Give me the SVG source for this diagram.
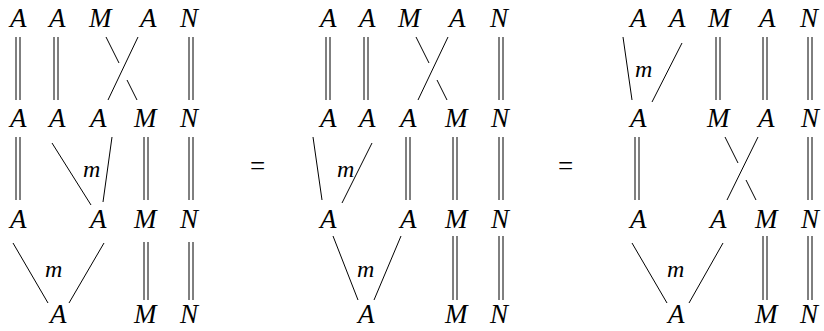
<svg xmlns="http://www.w3.org/2000/svg" width="824" height="331" viewBox="0 0 824 331">
<style>
line{stroke:#000;stroke-width:1}
</style>
<rect width="824" height="331" fill="#fff"/>
<g id="p1-r1"><text font-family="Liberation Serif" font-style="italic" font-size="27" x="10" y="27">A</text><text font-family="Liberation Serif" font-style="italic" font-size="27" x="49" y="27">A</text><text font-family="Liberation Serif" font-style="italic" font-size="27" x="89" y="27">M</text><text font-family="Liberation Serif" font-style="italic" font-size="27" x="140" y="27">A</text><text font-family="Liberation Serif" font-style="italic" font-size="27" x="180" y="27">N</text></g>
<g id="p1-r2"><text font-family="Liberation Serif" font-style="italic" font-size="27" x="10" y="127">A</text><text font-family="Liberation Serif" font-style="italic" font-size="27" x="49" y="127">A</text><text font-family="Liberation Serif" font-style="italic" font-size="27" x="90" y="127">A</text><text font-family="Liberation Serif" font-style="italic" font-size="27" x="134" y="127">M</text><text font-family="Liberation Serif" font-style="italic" font-size="27" x="180" y="127">N</text></g>
<g id="p1-r3"><text font-family="Liberation Serif" font-style="italic" font-size="27" x="10" y="228">A</text><text font-family="Liberation Serif" font-style="italic" font-size="27" x="90" y="228">A</text><text font-family="Liberation Serif" font-style="italic" font-size="27" x="134" y="228">M</text><text font-family="Liberation Serif" font-style="italic" font-size="27" x="180" y="228">N</text></g>
<g id="p1-r4"><text font-family="Liberation Serif" font-style="italic" font-size="27" x="50" y="323">A</text><text font-family="Liberation Serif" font-style="italic" font-size="27" x="134" y="323">M</text><text font-family="Liberation Serif" font-style="italic" font-size="27" x="180" y="323">N</text></g>
<g id="p2-r1"><text font-family="Liberation Serif" font-style="italic" font-size="27" x="320" y="27">A</text><text font-family="Liberation Serif" font-style="italic" font-size="27" x="359" y="27">A</text><text font-family="Liberation Serif" font-style="italic" font-size="27" x="398" y="27">M</text><text font-family="Liberation Serif" font-style="italic" font-size="27" x="449" y="27">A</text><text font-family="Liberation Serif" font-style="italic" font-size="27" x="490" y="27">N</text></g>
<g id="p2-r2"><text font-family="Liberation Serif" font-style="italic" font-size="27" x="320" y="127">A</text><text font-family="Liberation Serif" font-style="italic" font-size="27" x="359" y="127">A</text><text font-family="Liberation Serif" font-style="italic" font-size="27" x="400" y="127">A</text><text font-family="Liberation Serif" font-style="italic" font-size="27" x="445" y="127">M</text><text font-family="Liberation Serif" font-style="italic" font-size="27" x="491" y="127">N</text></g>
<g id="p2-r3"><text font-family="Liberation Serif" font-style="italic" font-size="27" x="320" y="228">A</text><text font-family="Liberation Serif" font-style="italic" font-size="27" x="400" y="228">A</text><text font-family="Liberation Serif" font-style="italic" font-size="27" x="445" y="228">M</text><text font-family="Liberation Serif" font-style="italic" font-size="27" x="491" y="228">N</text></g>
<g id="p2-r4"><text font-family="Liberation Serif" font-style="italic" font-size="27" x="358" y="323">A</text><text font-family="Liberation Serif" font-style="italic" font-size="27" x="445" y="323">M</text><text font-family="Liberation Serif" font-style="italic" font-size="27" x="490" y="323">N</text></g>
<g id="p3-r1"><text font-family="Liberation Serif" font-style="italic" font-size="27" x="630" y="27">A</text><text font-family="Liberation Serif" font-style="italic" font-size="27" x="669" y="27">A</text><text font-family="Liberation Serif" font-style="italic" font-size="27" x="708" y="27">M</text><text font-family="Liberation Serif" font-style="italic" font-size="27" x="759" y="27">A</text><text font-family="Liberation Serif" font-style="italic" font-size="27" x="800" y="27">N</text></g>
<g id="p3-r2"><text font-family="Liberation Serif" font-style="italic" font-size="27" x="630" y="127">A</text><text font-family="Liberation Serif" font-style="italic" font-size="27" x="707" y="127">M</text><text font-family="Liberation Serif" font-style="italic" font-size="27" x="758" y="127">A</text><text font-family="Liberation Serif" font-style="italic" font-size="27" x="801" y="127">N</text></g>
<g id="p3-r3"><text font-family="Liberation Serif" font-style="italic" font-size="27" x="630" y="228">A</text><text font-family="Liberation Serif" font-style="italic" font-size="27" x="710" y="228">A</text><text font-family="Liberation Serif" font-style="italic" font-size="27" x="755" y="228">M</text><text font-family="Liberation Serif" font-style="italic" font-size="27" x="801" y="228">N</text></g>
<g id="p3-r4"><text font-family="Liberation Serif" font-style="italic" font-size="27" x="668" y="323">A</text><text font-family="Liberation Serif" font-style="italic" font-size="27" x="755" y="323">M</text><text font-family="Liberation Serif" font-style="italic" font-size="27" x="800" y="323">N</text></g>
<g id="labels">
<text font-family="Liberation Serif" font-style="italic" font-size="24" x="83" y="177">m</text><text font-family="Liberation Serif" font-style="italic" font-size="24" x="45" y="277">m</text>
<text font-family="Liberation Serif" font-style="italic" font-size="24" x="337" y="177">m</text><text font-family="Liberation Serif" font-style="italic" font-size="24" x="357" y="277">m</text>
<text font-family="Liberation Serif" font-style="italic" font-size="24" x="635" y="77">m</text><text font-family="Liberation Serif" font-style="italic" font-size="24" x="667" y="277">m</text>
</g>
<g id="equals"><text font-family="Liberation Serif" font-size="27" x="250" y="175">=</text><text font-family="Liberation Serif" font-size="27" x="558" y="175">=</text></g>
<g id="connectors">
<line x1="16" y1="37" x2="16" y2="100"/><line x1="20" y1="37" x2="20" y2="100"/>
<line x1="54" y1="37" x2="54" y2="100"/><line x1="58" y1="37" x2="58" y2="100"/>
<line x1="138" y1="37" x2="108" y2="100"/>
<line x1="106" y1="37" x2="119" y2="63"/><line x1="127" y1="80" x2="137" y2="100"/>
<line x1="189" y1="37" x2="189" y2="100"/><line x1="193" y1="37" x2="193" y2="100"/>
<line x1="16" y1="137" x2="16" y2="200"/><line x1="20" y1="137" x2="20" y2="200"/>
<line x1="52" y1="143" x2="91" y2="205"/>
<line x1="112" y1="137" x2="103" y2="202"/>
<line x1="144" y1="137" x2="144" y2="200"/><line x1="148" y1="137" x2="148" y2="200"/>
<line x1="189" y1="137" x2="189" y2="200"/><line x1="193" y1="137" x2="193" y2="200"/>
<line x1="13" y1="243" x2="48" y2="303"/>
<line x1="104" y1="243" x2="69" y2="303"/>
<line x1="144" y1="242" x2="144" y2="300"/><line x1="148" y1="242" x2="148" y2="300"/>
<line x1="189" y1="242" x2="189" y2="300"/><line x1="193" y1="242" x2="193" y2="300"/>
<line x1="326" y1="37" x2="326" y2="100"/><line x1="330" y1="37" x2="330" y2="100"/>
<line x1="364" y1="37" x2="364" y2="100"/><line x1="368" y1="37" x2="368" y2="100"/>
<line x1="448" y1="37" x2="418" y2="100"/>
<line x1="416" y1="37" x2="429" y2="63"/><line x1="437" y1="80" x2="447" y2="100"/>
<line x1="499" y1="37" x2="499" y2="100"/><line x1="503" y1="37" x2="503" y2="100"/>
<line x1="313" y1="137" x2="322" y2="200"/>
<line x1="372" y1="143" x2="342" y2="203"/>
<line x1="406" y1="137" x2="406" y2="200"/><line x1="410" y1="137" x2="410" y2="200"/>
<line x1="453" y1="137" x2="453" y2="200"/><line x1="457" y1="137" x2="457" y2="200"/>
<line x1="499" y1="137" x2="499" y2="200"/><line x1="503" y1="137" x2="503" y2="200"/>
<line x1="333" y1="236" x2="358" y2="300"/>
<line x1="401" y1="236" x2="374" y2="300"/>
<line x1="453" y1="236" x2="453" y2="300"/><line x1="457" y1="236" x2="457" y2="300"/>
<line x1="499" y1="236" x2="499" y2="300"/><line x1="503" y1="236" x2="503" y2="300"/>
<line x1="623" y1="37" x2="632" y2="100"/>
<line x1="682" y1="43" x2="652" y2="102"/>
<line x1="716" y1="37" x2="716" y2="100"/><line x1="720" y1="37" x2="720" y2="100"/>
<line x1="763" y1="37" x2="763" y2="100"/><line x1="767" y1="37" x2="767" y2="100"/>
<line x1="808" y1="37" x2="808" y2="100"/><line x1="812" y1="37" x2="812" y2="100"/>
<line x1="635" y1="137" x2="635" y2="200"/><line x1="639" y1="137" x2="639" y2="200"/>
<line x1="758" y1="137" x2="727" y2="200"/>
<line x1="725" y1="137" x2="738" y2="163"/><line x1="746" y1="180" x2="756" y2="200"/>
<line x1="808" y1="137" x2="808" y2="200"/><line x1="812" y1="137" x2="812" y2="200"/>
<line x1="632" y1="243" x2="667" y2="303"/>
<line x1="723" y1="243" x2="689" y2="303"/>
<line x1="763" y1="236" x2="763" y2="300"/><line x1="767" y1="236" x2="767" y2="300"/>
<line x1="808" y1="236" x2="808" y2="300"/><line x1="812" y1="236" x2="812" y2="300"/>
</g>
</svg>
